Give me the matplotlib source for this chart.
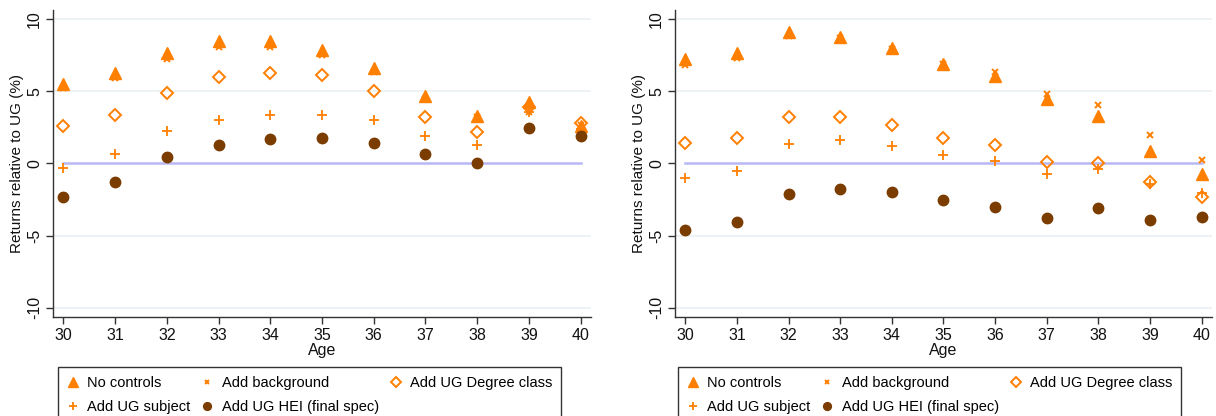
import matplotlib
matplotlib.use("Agg")
import matplotlib.pyplot as plt
from matplotlib.lines import Line2D

plt.rcParams['font.family'] = ['Liberation Sans', 'DejaVu Sans']

ages = [30, 31, 32, 33, 34, 35, 36, 37, 38, 39, 40]

series_names = ["No controls", "Add background", "Add UG Degree class",
                "Add UG subject", "Add UG HEI (final spec)"]

# Left panel
left_no_controls = [5.5, 6.3, 7.7, 8.5, 8.5, 7.85, 6.65, 4.65, 3.3, 4.3, 2.6]
left_background = [5.25, 5.9, 7.25, 8.05, 8.1, 7.5, 6.35, 4.45, 3.2, 3.6, 2.7]
left_degree = [2.6, 3.35, 4.9, 6.0, 6.3, 6.15, 5.05, 3.25, 2.2, 3.9, 2.8]
left_subject = [-0.3, 0.65, 2.25, 3.0, 3.35, 3.35, 3.0, 1.9, 1.3, 3.55, 2.4]
left_hei = [-2.35, -1.3, 0.45, 1.25, 1.7, 1.8, 1.45, 0.65, 0.05, 2.45, 1.9]

# Right panel
right_no_controls = [7.25, 7.65, 9.1, 8.8, 8.0, 6.9, 6.1, 4.5, 3.3, 0.9, -0.75]
right_background = [6.8, 7.3, 8.85, 8.7, 7.95, 6.9, 6.35, 4.85, 4.05, 1.95, 0.25]
right_degree = [1.45, 1.8, 3.25, 3.25, 2.65, 1.75, 1.25, 0.1, 0.0, -1.25, -2.35]
right_subject = [-1.0, -0.5, 1.35, 1.6, 1.2, 0.6, 0.2, -0.7, -0.4, -1.45, -2.05]
right_hei = [-4.6, -4.05, -2.15, -1.75, -2.0, -2.55, -3.05, -3.75, -3.1, -3.9, -3.7]

ORANGE = "#ff7f00"
BROWN = "#7b3c00"

styles = [
    dict(marker="^", color=ORANGE, markersize=9, linestyle="none"),
    dict(marker="x", color=ORANGE, markersize=4.5, markeredgewidth=1.4, linestyle="none"),
    dict(marker="D", markerfacecolor="none", markeredgecolor=ORANGE,
         markersize=6.5, markeredgewidth=1.4, linestyle="none"),
    dict(marker="+", color=ORANGE, markersize=7, markeredgewidth=1.3, linestyle="none"),
    dict(marker="o", color=BROWN, markersize=7.5, linestyle="none"),
]

# legend fills column by column; this order reads row by row in 3 columns
legend_order = [0, 3, 1, 4, 2]

fig = plt.figure(figsize=(12.16, 4.16), dpi=100)

panels = [
    ([53 / 1216, 0.238, 538 / 1216, 0.738],
     [left_no_controls, left_background, left_degree, left_subject, left_hei],
     58 / 1216),
    ([675 / 1216, 0.238, 537 / 1216, 0.738],
     [right_no_controls, right_background, right_degree, right_subject, right_hei],
     678 / 1216),
]

for rect, data, leg_x in panels:
    ax = fig.add_axes(rect)
    for yv in [-10, -5, 5, 10]:
        ax.axhline(yv, color="#eaf0f2", linewidth=1.2, zorder=0)
    ax.plot([ages[0], ages[-1]], [0, 0], color="#b8b8f5", linewidth=1.8, zorder=1)
    for vals, st in zip(data, styles):
        ax.plot(ages, vals, zorder=3, **st)
    ax.set_xlim(29.8, 40.2)
    ax.set_ylim(-10.65, 10.65)
    ax.set_xticks(ages)
    ax.set_yticks([-10, -5, 0, 5, 10])
    ax.set_yticklabels(["-10", "-5", "0", "5", "10"], rotation=90, va="center")
    ax.tick_params(axis="both", labelsize=11.5, length=5, width=1, color="#333333",
                   labelcolor="#111111", pad=3)
    for side in ("top", "right"):
        ax.spines[side].set_visible(False)
    for side in ("left", "bottom"):
        ax.spines[side].set_color("#333333")
        ax.spines[side].set_linewidth(1.0)
    ax.set_xlabel("Age", fontsize=11.5, labelpad=0, color="#111111")
    ax.set_ylabel("Returns relative to UG (%)", fontsize=11, labelpad=2, color="#111111")

    handles = [Line2D([], [], **styles[i]) for i in legend_order]
    labels = [series_names[i] for i in legend_order]
    fig.legend(handles, labels, loc="upper left",
               bbox_to_anchor=(leg_x, 1 - 367 / 416), borderaxespad=0, ncol=3,
               fontsize=10.5, frameon=True, fancybox=False, edgecolor="#333333",
               framealpha=1, markerscale=0.75, handlelength=0.8,
               handletextpad=0.6, columnspacing=0.75, borderpad=0.6,
               labelspacing=0.7)

fig.savefig("out.png", dpi=100)
